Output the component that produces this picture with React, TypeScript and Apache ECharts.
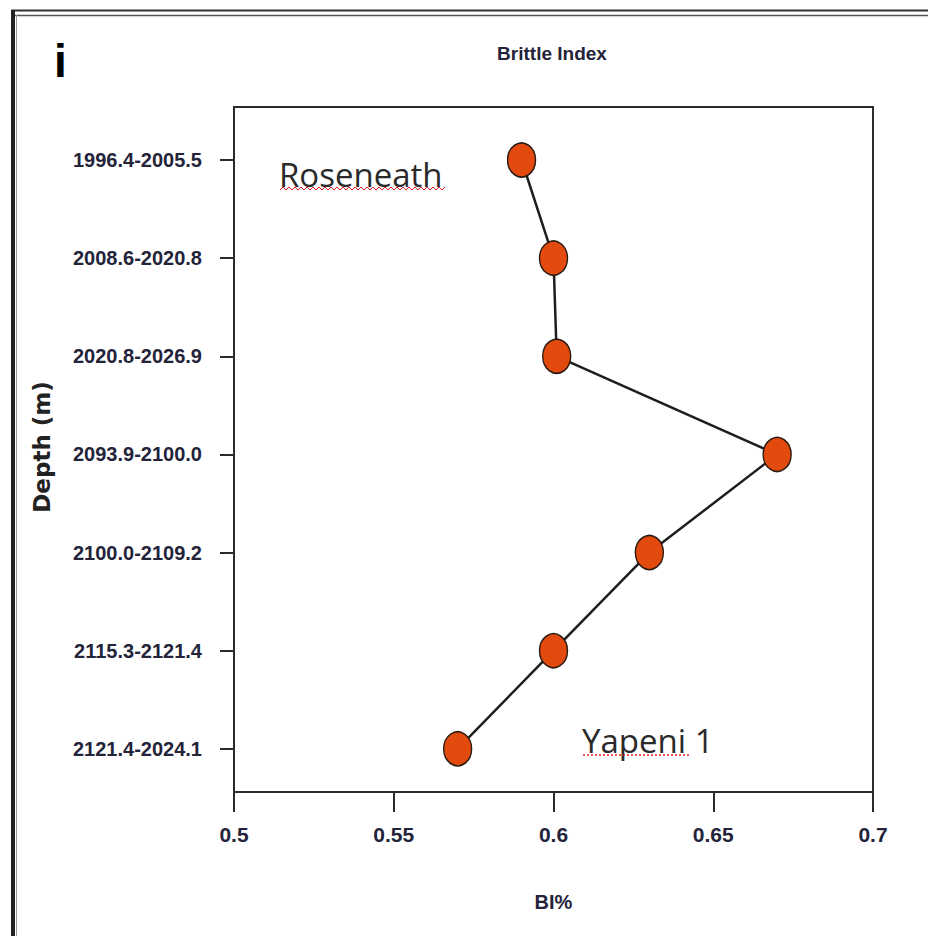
import React, { useEffect, useRef } from "react";
import * as echarts from "echarts";

const depthCategories = [
  "1996.4-2005.5",
  "2008.6-2020.8",
  "2020.8-2026.9",
  "2093.9-2100.0",
  "2100.0-2109.2",
  "2115.3-2121.4",
  "2121.4-2024.1",
];
const brittleIndex = [0.59, 0.6, 0.601, 0.67, 0.63, 0.6, 0.57];
const xTicks = [0.5, 0.55, 0.6, 0.65, 0.7];
const panelLabel = "i";
const chartTitle = "Brittle Index";
const xName = "BI%";
const yName = "Depth (m)";
const topNote = "Roseneath";
const bottomNote = "Yapeni 1";

const NARROW = "'Liberation Sans Narrow', 'Liberation Sans', Arial, sans-serif";
const TEXT_DARK = "#23233a";

export default function App() {
  const ref = useRef<HTMLDivElement>(null);
  useEffect(() => {
    if (!ref.current) return;
    const chart = echarts.init(ref.current, undefined, { renderer: "svg" });
    const idx = depthCategories.map((_, i) => i);
    const data = brittleIndex.map((v, i) => [v, i]);
    const wave: number[][] = [];
    for (let x = 280, k = 0; x <= 447; x += 3, k++) wave.push([x, k % 2 ? 187 : 190]);
    chart.setOption({
      animation: false,
      backgroundColor: "#ffffff",
      grid: {
        left: 234,
        top: 107,
        width: 639,
        height: 685,
        containLabel: false,
        show: true,
        borderColor: "#2b2b2b",
        borderWidth: 2,
        backgroundColor: "transparent",
      },
      xAxis: {
        type: "value",
        min: 0.5,
        max: 0.7,
        interval: 0.05,
        name: xName,
        nameLocation: "middle",
        nameGap: 100,
        nameTextStyle: { fontFamily: NARROW, fontSize: 20, fontWeight: "bold", color: TEXT_DARK },
        axisLine: { show: true, onZero: false, lineStyle: { color: "#2b2b2b", width: 2 } },
        axisTick: { show: true, length: 20, lineStyle: { color: "#2b2b2b", width: 2 }, customValues: xTicks },
        axisLabel: {
          fontFamily: NARROW,
          fontSize: 21,
          fontWeight: "bold",
          color: TEXT_DARK,
          margin: 32,
          customValues: xTicks,
          formatter: (v: number) => String(Math.round(v * 100) / 100),
        },
        splitLine: { show: false },
      },
      yAxis: {
        type: "value",
        inverse: true,
        min: -0.54,
        max: 6.44,
        axisLine: { show: true, onZero: false, lineStyle: { color: "#2b2b2b", width: 2 } },
        axisTick: { show: true, length: 14, lineStyle: { color: "#2b2b2b", width: 2 }, customValues: idx },
        axisLabel: {
          fontFamily: NARROW,
          fontSize: 20,
          fontWeight: "bold",
          color: TEXT_DARK,
          margin: 32,
          customValues: idx,
          formatter: (v: number) => depthCategories[Math.round(v)] ?? "",
        },
        splitLine: { show: false },
      },
      series: [
        {
          type: "line",
          data,
          symbol: "circle",
          symbolSize: [28, 34],
          lineStyle: { color: "#1e1e1e", width: 2.5 },
          itemStyle: { color: "#E24A0E", borderColor: "#2a1a10", borderWidth: 1.5 },
          z: 3,
        },
      ],
      graphic: [
        { type: "line", shape: { x1: 11, y1: 10.5, x2: 928, y2: 10.5 }, style: { stroke: "#333", lineWidth: 2 } },
        { type: "line", shape: { x1: 15, y1: 15.5, x2: 928, y2: 15.5 }, style: { stroke: "#555", lineWidth: 1.5 } },
        { type: "line", shape: { x1: 13, y1: 10, x2: 13, y2: 936 }, style: { stroke: "#222", lineWidth: 4 } },
        { type: "line", shape: { x1: 16.5, y1: 15, x2: 16.5, y2: 936 }, style: { stroke: "#999", lineWidth: 1 } },
        {
          type: "text",
          left: 54,
          top: 38,
          style: { text: panelLabel, font: "bold 46px 'Liberation Sans', Arial, sans-serif", fill: "#000" },
        },
        {
          type: "text",
          x: 552,
          y: 53,
          style: {
            text: chartTitle,
            font: "bold 19px " + NARROW,
            fill: TEXT_DARK,
            align: "center",
            verticalAlign: "middle",
          },
        },
        {
          type: "text",
          x: 42,
          y: 447,
          rotation: Math.PI / 2,
          style: {
            text: yName,
            font: "bold 23px 'DejaVu Sans', Verdana, sans-serif",
            fill: "#222",
            align: "center",
            verticalAlign: "middle",
          },
        },
        {
          type: "text",
          x: 279,
          y: 174,
          style: { text: topNote, font: "33px 'Open Sans', 'Liberation Sans', sans-serif", fill: "#2a2a2a", verticalAlign: "middle" },
        },
        { type: "polyline", shape: { points: wave }, style: { stroke: "#e02020", lineWidth: 1, fill: "none" } },
        {
          type: "text",
          x: 582,
          y: 740,
          style: { text: bottomNote, font: "33px 'Open Sans', 'Liberation Sans', sans-serif", fill: "#2a2a2a", verticalAlign: "middle" },
        },
        {
          type: "line",
          shape: { x1: 583, y1: 755, x2: 690, y2: 755 },
          style: { stroke: "#e02020", lineWidth: 1.5, lineDash: [2, 2] },
        },
      ],
    });
    return () => chart.dispose();
  }, []);
  return (
    <div
      ref={ref}
      style={{ position: "absolute", left: 0, top: 0, width: 928, height: 936 }}
    />
  );
}
